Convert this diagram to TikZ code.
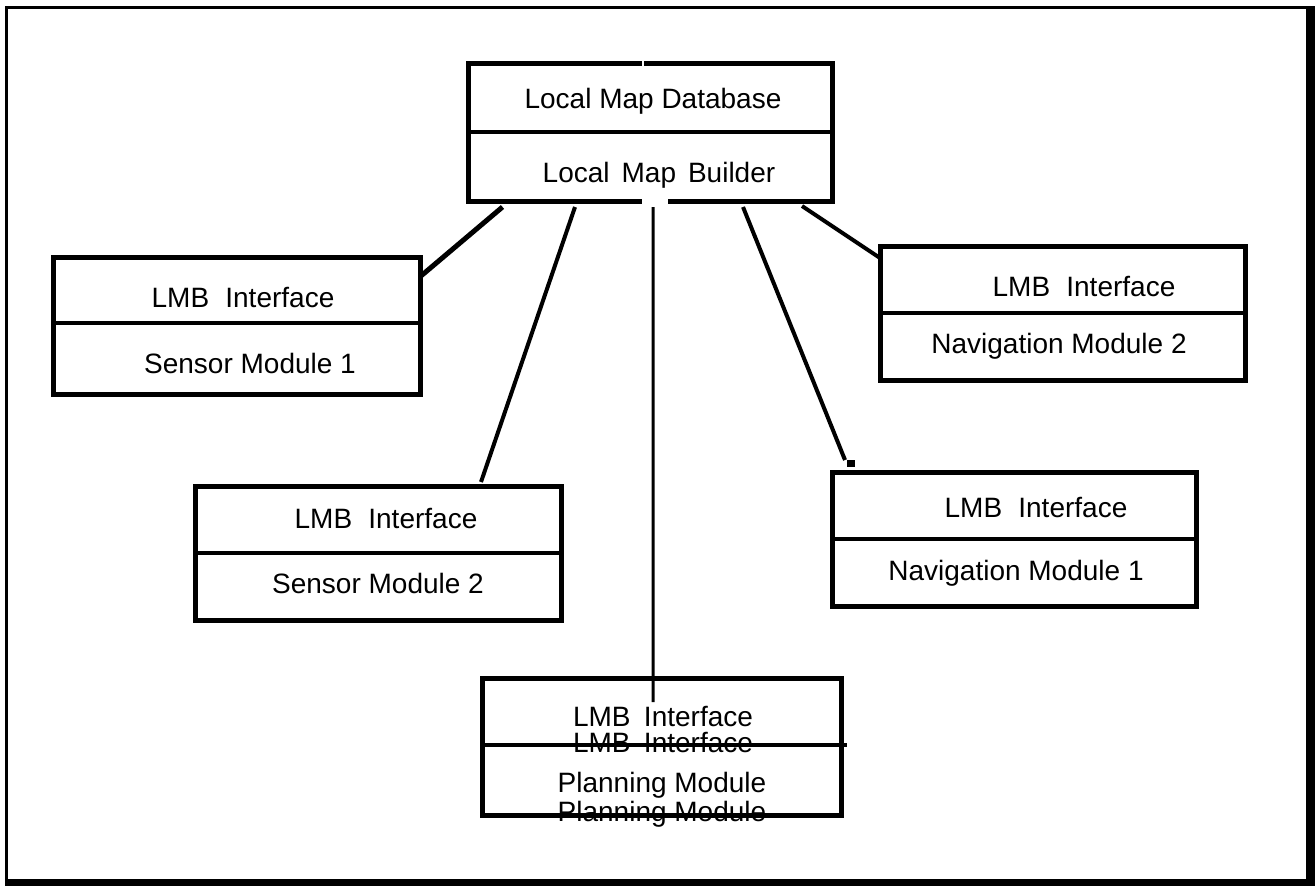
\documentclass[tikz,border=0pt]{standalone}
\usepackage{fontspec}
\setmainfont{Liberation Sans}
\usetikzlibrary{calc}
\begin{document}
\begin{tikzpicture}[x=1bp,y=-1bp,
  box/.style={draw,line width=5bp,inner sep=0pt,outer sep=0pt,rectangle},
  lbl/.style={anchor=base,inner sep=0pt,font=\fontsize{28bp}{32bp}\selectfont},
  divider/.style={line width=3.5bp},
  conn/.style={line width=4bp},
]
\useasboundingbox (0,0) rectangle (1315,886);
\fill[white] (0,0) rectangle (1315,886);
% outer frame with heavy right/bottom edge
\draw[line width=3bp] (6.5,7.5) rectangle (1307,880);
\fill[black] (1307,6) rectangle (1315,886);
\fill[black] (5,880) rectangle (1315,886);

% texts
\node[lbl] (tdb) at (653,108) {Local Map Database};
\node[lbl] (tlb) at (659,182) {Local\hspace{0.15em} Map\hspace{0.15em} Builder};
\node[lbl] (s1a) at (243,307) {LMB\hspace{0.3em} Interface};
\node[lbl] (s1b) at (250,373) {Sensor Module 1};
\node[lbl] (s2a) at (386,528) {LMB\hspace{0.3em} Interface};
\node[lbl] (s2b) at (378,593) {Sensor Module 2};
\node[lbl] (n2a) at (1084,296) {LMB\hspace{0.3em} Interface};
\node[lbl] (n2b) at (1059,353) {Navigation Module 2};
\node[lbl] (n1a) at (1036,517) {LMB\hspace{0.3em} Interface};
\node[lbl] (n1b) at (1016,580) {Navigation Module 1};
\node[lbl] (pa) at (663,726) {LMB\hspace{0.2em} Interface};
\node[lbl] (pag) at (663,752) {LMB\hspace{0.2em} Interface};
\node[lbl] (pb) at (662,792) {Planning Module};
\node[lbl] (pbg) at (662,821) {Planning Module};

% boxes
\node[box,minimum width=364bp,minimum height=138bp] (top) at (650.5,132.5) {};
\node[box,minimum width=367bp,minimum height=137bp] (s1) at (237,326) {};
\node[box,minimum width=365.5bp,minimum height=133.5bp] (s2) at (378.25,553.25) {};
\node[box,minimum width=365bp,minimum height=134bp] (n2) at (1062.5,313.5) {};
\node[box,minimum width=364bp,minimum height=134bp] (n1) at (1014,539) {};
\node[box,minimum width=358.5bp,minimum height=136.5bp] (pl) at (661.75,746.75) {};

% dividers
\draw[divider] (top.west |- 0,132) -- (top.east |- 0,132);
\draw[divider] (s1.west |- 0,323) -- (s1.east |- 0,323);
\draw[divider] (s2.west |- 0,553) -- (s2.east |- 0,553);
\draw[divider] (n2.west |- 0,313) -- (n2.east |- 0,313);
\draw[divider] (n1.west |- 0,539) -- (n1.east |- 0,539);
\draw[divider] (pl.west |- 0,745) -- ($(pl.east |- 0,745)+(6,0)$);

% small gaps in the top box border
\fill[white] (642,198.5) rectangle (668,204.5);
\fill[white] (642,60.5) rectangle (644,66.5);

% connectors
\draw[line width=5bp] ($(top.south west)+(34,5.5)$) -- ($(s1.north east)+(1,18)$);
\draw[conn] ($(top.south west)+(106.5,5.5)$) -- ($(s2.north west)+(285.5,-4.5)$);
\draw[line width=3bp] ($(top.south west)+(184.5,5.5)$) -- ($(pl.north west)+(170.5,23.5)$);
\coordinate (n1end) at ($(n1.north west)+(13,-12)$);
\draw[conn] ($(top.south west)+(274.5,5.5)$) -- (n1end);
\node[fill=black,minimum width=8bp,minimum height=7bp,inner sep=0pt] (tick) at ($(n1.north west)+(19,-8.5)$) {};
\draw[conn] ($(top.south west)+(333.5,4.5)$) -- ($(n2.north west)+(0,11.5)$);
\end{tikzpicture}
\end{document}
